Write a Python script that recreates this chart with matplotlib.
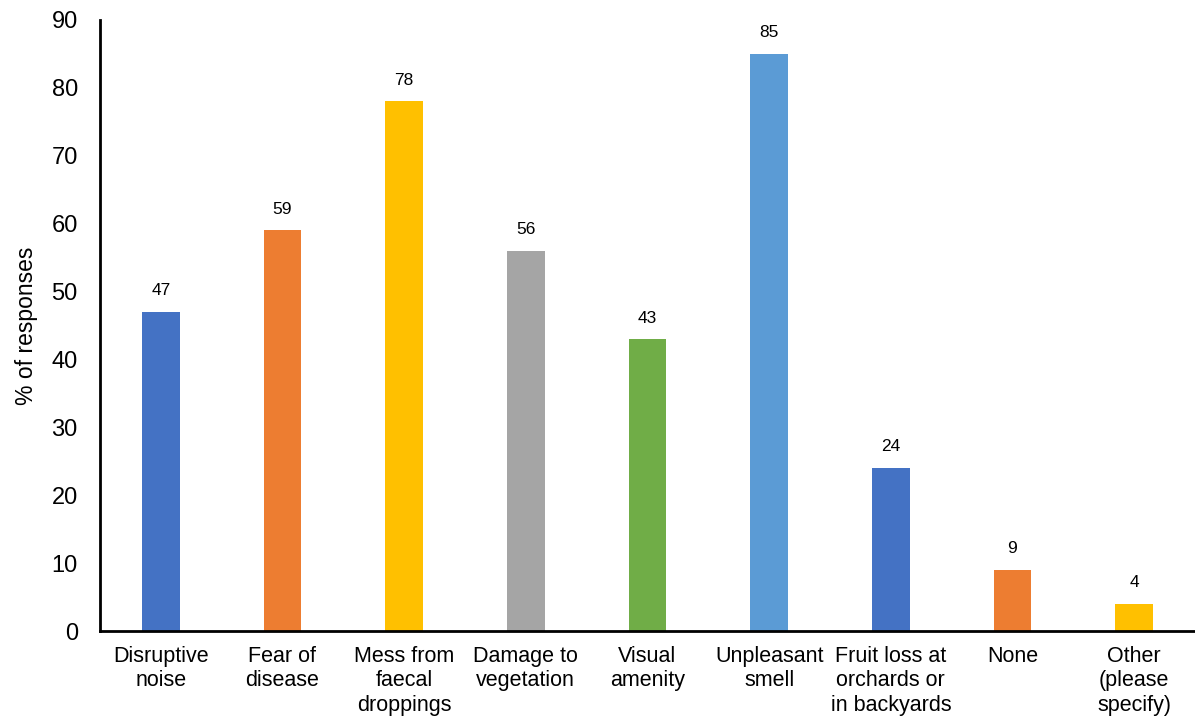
import matplotlib
matplotlib.use("Agg")
import matplotlib.pyplot as plt

plt.rcParams['font.family'] = ['Liberation Sans', 'DejaVu Sans']

categories = [
    "Disruptive\nnoise",
    "Fear of\ndisease",
    "Mess from\nfaecal\ndroppings",
    "Damage to\nvegetation",
    "Visual\namenity",
    "Unpleasant\nsmell",
    "Fruit loss at\norchards or\nin backyards",
    "None",
    "Other\n(please\nspecify)",
]
values = [47, 59, 78, 56, 43, 85, 24, 9, 4]
colors = ["#4472C4", "#ED7D31", "#FFC000", "#A5A5A5", "#70AD47",
          "#5B9BD5", "#4472C4", "#ED7D31", "#FFC000"]
yticks = [0, 10, 20, 30, 40, 50, 60, 70, 80, 90]

fig = plt.figure(figsize=(11.95, 7.18), dpi=100)
ax = fig.add_axes([100 / 1195, 1 - 631 / 718, 1 - 100 / 1195, (631 - 20) / 718])

x = list(range(len(categories)))
bars = ax.bar(x, values, width=0.31, color=colors, zorder=2)
for xi, v in zip(x, values):
    ax.text(xi, v + 2.0, f"{v}", ha="center", va="bottom", fontsize=12.5)

ax.set_xlim(-0.5, 8.5)
ax.set_ylim(0, 90)
ax.set_yticks(yticks)
ax.set_xticks(x)
ax.set_xticklabels(categories, fontsize=15.5, linespacing=1.2)
ax.tick_params(axis="y", labelsize=17, length=0, pad=16)
ax.tick_params(axis="x", length=0, pad=11)
ax.set_ylabel("% of responses", fontsize=16.5, labelpad=10)

for side in ["top", "right"]:
    ax.spines[side].set_visible(False)
for side in ["left", "bottom"]:
    ax.spines[side].set_linewidth(2)
    ax.spines[side].set_color("black")

fig.savefig("out.png", dpi=100)
